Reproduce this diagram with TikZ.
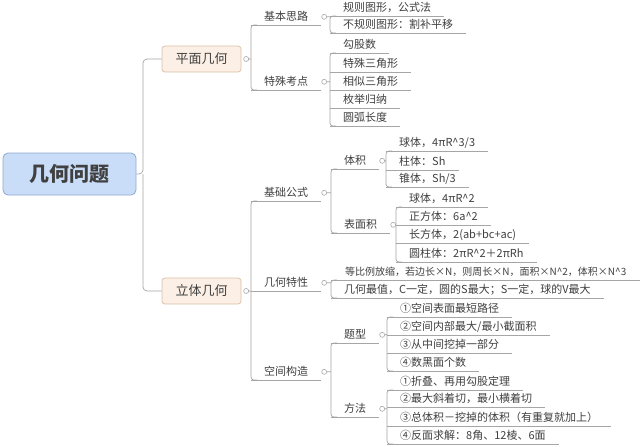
\documentclass[tikz,border=0pt]{standalone}
\usepackage{fontspec}
\setmainfont{Noto Sans CJK SC}
\usepackage{tikz}
\usetikzlibrary{positioning}
\definecolor{lineclr}{HTML}{A6A6A6}
\definecolor{txtclr}{HTML}{404040}
\definecolor{rootfill}{HTML}{C9DDF8}
\definecolor{rootdraw}{HTML}{8FAAD0}
\definecolor{topicfill}{HTML}{FCF0E6}
\definecolor{topicdraw}{HTML}{D9BFA6}

\begin{document}
\begin{tikzpicture}[x=1pt,y=-1pt,
  link/.style={draw=lineclr,line width=0.7pt,rounded corners=3pt},
  root/.style={draw=rootdraw,fill=rootfill,rounded corners=5pt,line width=0.8pt,
    minimum width=133pt,minimum height=42pt,text=txtclr,
    font=\fontsize{20}{24}\selectfont\bfseries},
  topic/.style={draw=topicdraw,fill=topicfill,rounded corners=3pt,line width=0.7pt,
    minimum width=79pt,minimum height=26pt,text=txtclr,
    font=\fontsize{13}{15}\selectfont},
  item/.style={anchor=south west,inner xsep=13pt,inner ysep=3pt,
    text height=8.5pt,text depth=1.5pt,text=txtclr,
    font=\fontsize{11}{13}\selectfont,
    append after command={(\tikzlastnode.south west) edge[link] (\tikzlastnode.south east)}},
  knob/.style={circle,draw=lineclr,fill=white,line width=0.6pt,inner sep=0pt,minimum size=5pt}]
\path[use as bounding box,fill=white] (0,0) rectangle (640,447);

\node[root] (root) at (69.5,174) {几何问题};
\node[topic] (pm) at (201.5,59) {平面几何};
\node[topic] (lt) at (201.5,291) {立体几何};
\coordinate (r-j) at (143,174);
\draw[link,rounded corners=4pt] (root.east) -- (r-j) |- (pm.west);
\draw[link,rounded corners=4pt] (r-j) |- (lt.west);
\node[knob,right=2pt of pm] (pm-o) {};
\node[knob,right=2pt of lt] (lt-o) {};

% 平面几何
\node[item] (jbsl) at (251,25) {基本思路};
\node[item] (tskd) at (251,90) {特殊考点};
\node[item] (gztx) at (330,16) {规则图形，公式法};
\node[item] (bgzt) at (330,33) {不规则图形：割补平移};
\node[item] (ggs) at (330,53) {勾股数};
\node[item] (tssjx) at (330,72) {特殊三角形};
\node[item] (xssjx) at (330,90) {相似三角形};
\node[item] (mjgn) at (330,108) {枚举归纳};
\node[item] (yhcd) at (330,126) {圆弧长度};

% 立体几何
\node[item] (jcgs) at (251,201) {基础公式};
\node[item] (jhtx) at (251,291) {几何特性};
\node[item] (kjgz) at (251,380) {空间构造};

\node[item] (tj) at (331,169) {体积};
\node[item] (bmj) at (331,233) {表面积};
\node[item] (qt1) at (386,151) {球体，4πR\string^3/3};
\node[item] (zt) at (386,170) {柱体：Sh};
\node[item] (zhui) at (386,187) {锥体，Sh/3};
\node[item] (qt2) at (396,207) {球体，4πR\string^2};
\node[item] (zft) at (396,225) {正方体：6a\string^2};
\node[item] (cft) at (396,243) {长方体，2(ab+bc+ac)};
\node[item] (yzt) at (396,262) {圆柱体：2πR\string^2＋2πRh};

\node[item,font=\fontsize{10}{12}\selectfont,inner xsep=14pt] (dbl) at (331,280)
  {等比例放缩，若边长×N，则周长×N，面积×N\string^2，体积×N\string^3};
\node[item] (jhzz) at (331,298) {几何最值，C一定，圆的S最大；S一定，球的V最大};

\node[item] (tx) at (331,343) {题型};
\node[item] (ff) at (331,417) {方法};
\node[item] (tx1) at (387,317) {①空间表面最短路径};
\node[item] (tx2) at (387,335) {②空间内部最大/最小截面积};
\node[item] (tx3) at (387,353) {③从中间挖掉一部分};
\node[item] (tx4) at (387,371) {④数黑面个数};
\node[item] (ff1) at (387,390) {①折叠、再用勾股定理};
\node[item] (ff2) at (387,407) {②最大斜着切，最小横着切};
\node[item] (ff3) at (387,426) {③总体积－挖掉的体积（有重复就加上）};
\node[item] (ff4) at (387,444) {④反面求解：8角、12棱、6面};

\foreach \p in {jbsl,tskd,jcgs,jhtx,kjgz,tj,bmj,tx,ff}
  \node[knob,right=0pt of \p] (\p-o) {};

% brackets
\foreach \p/\a/\z in {pm/jbsl/tskd,lt/jcgs/kjgz,jbsl/gztx/bgzt,tskd/ggs/yhcd,
    jcgs/tj/bmj,tj/qt1/zhui,bmj/qt2/yzt,jhtx/dbl/jhzz,kjgz/tx/ff,tx/tx1/tx4,ff/ff1/ff4}
  \draw[link] (\p-o) -- (\p-o -| \a.west)
    ([xshift=6pt]\a.south west) -- (\a.south west) -- (\z.south west) -- ([xshift=6pt]\z.south west);
\end{tikzpicture}
\end{document}
